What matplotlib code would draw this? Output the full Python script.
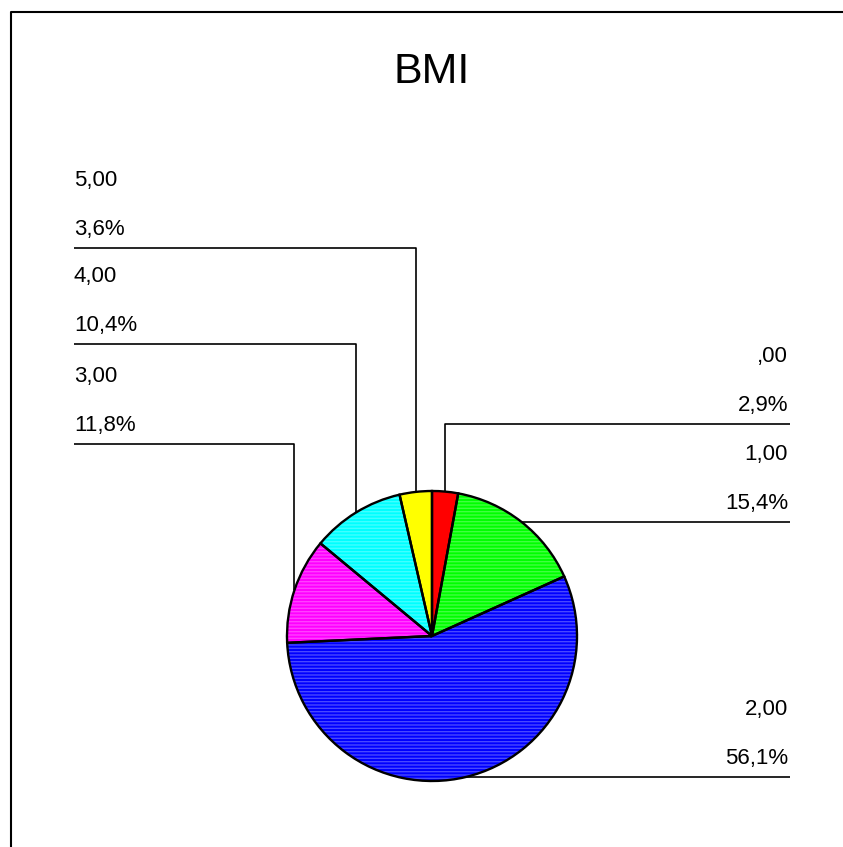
import numpy as np
import matplotlib
matplotlib.use("Agg")
import matplotlib.pyplot as plt

plt.rcParams['font.family'] = ['Liberation Sans', 'DejaVu Sans']

# BMI categories and their shares (percent)
categories = [",00", "1,00", "2,00", "3,00", "4,00", "5,00"]
percents = [2.9, 15.4, 56.1, 11.8, 10.4, 3.6]
pct_labels = ["2,9%", "15,4%", "56,1%", "11,8%", "10,4%", "3,6%"]
colors = ["#ff0000", "#00ff00", "#0000ff", "#ff00ff", "#00ffff", "#ffff00"]
hatch_colors = ["#ff0000", "#40ff40", "#4848ff", "#ff40ff", "#40ffff", "#ffff00"]

W, H = 843, 847
fig = plt.figure(figsize=(W / 100, H / 100), dpi=100)
ax = fig.add_axes([0, 0, 1, 1])

cx, cy, r = 432, H - 636, 145

# filled wedges with a fine horizontal stripe texture
wedges, _ = ax.pie(percents, colors=colors, startangle=90, counterclock=False,
                   center=(cx, cy), radius=r, frame=True,
                   wedgeprops=dict(linewidth=0))
for w, hc in zip(wedges, hatch_colors):
    w.set_edgecolor(hc)
    w.set_hatch("-----")
# black outlines on top
ax.pie(percents, colors=["none"] * len(percents), startangle=90, counterclock=False,
       center=(cx, cy), radius=r, frame=True,
       wedgeprops=dict(linewidth=1.7, edgecolor="black", fill=False))
ax.set_xlim(0, W)
ax.set_ylim(0, H)
ax.set_aspect("equal")
ax.axis("off")

# leader-line heights (pixel rows from top) and which side the label sits on
line_rows = [424, 522, 777, 444, 344, 248]
sides = ["right", "right", "right", "left", "left", "left"]
x_left, x_right = 74, 790
label_size = 16

cum = np.cumsum([0] + percents)
total = sum(percents)
for i, (cat, pl) in enumerate(zip(categories, pct_labels)):
    mid = 90 - (cum[i] + percents[i] / 2) / total * 360
    ex = cx + r * np.cos(np.radians(mid))
    ey = cy + r * np.sin(np.radians(mid))
    ly = H - line_rows[i]
    xe = x_right if sides[i] == "right" else x_left
    ax.plot([ex, ex, xe], [ey, ly, ly], color="black", lw=1.2,
            solid_capstyle="butt", clip_on=False, zorder=5)
    if sides[i] == "right":
        tx, ha = 788, "right"
    else:
        tx, ha = x_left, "left"
    ax.text(tx, ly + 62, cat, ha=ha, va="baseline", fontsize=label_size, color="black")
    ax.text(tx, ly + 13, pl, ha=ha, va="baseline", fontsize=label_size, color="black")

# title
ax.text(432, H - 83, "BMI", ha="center", va="baseline", fontsize=31, color="black")

# frame lines (left and top)
ax.plot([11, 11, W], [0, H - 12, H - 12], color="black", lw=1.5, clip_on=False)

fig.savefig("out.png", dpi=100)
